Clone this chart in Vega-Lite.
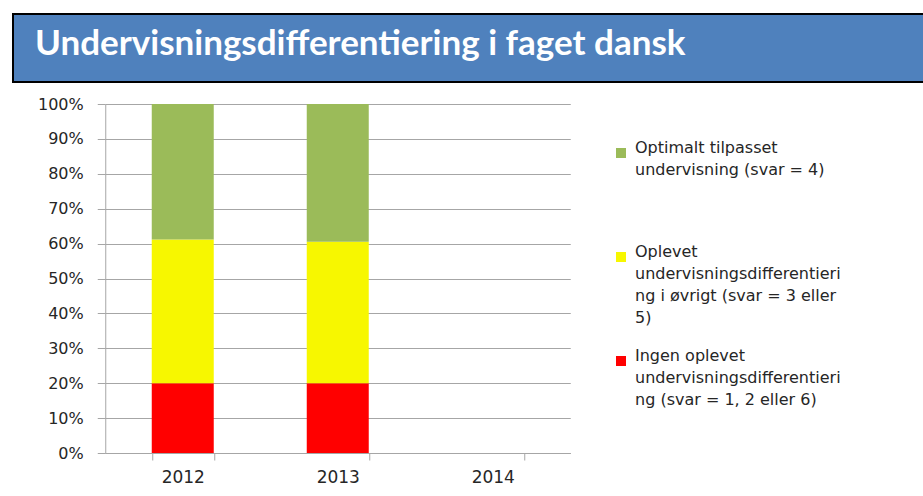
{
  "$schema": "https://vega.github.io/schema/vega-lite/v6.json",
  "padding": {"left": 12, "top": 13, "right": 0, "bottom": 0},
  "background": "white",
  "spacing": 13,
  "center": true,
  "config": {"style": {"guide-label": {"lineHeight": 22}}},
  "vconcat": [
    {
      "width": 915,
      "height": 68,
      "data": {"values": [{"banner": "title"}]},
      "view": {"stroke": null},
      "title": {
        "text": "Undervisningsdifferentiering i faget dansk",
        "anchor": "start",
        "frame": "group",
        "orient": "top",
        "offset": -77,
        "baseline": "alphabetic",
        "dx": 22,
        "font": "Lato",
        "fontWeight": "bold",
        "fontSize": 35,
        "color": "#ffffff"
      },
      "mark": {"type": "rect", "color": "#4F81BD", "stroke": "#000000", "strokeWidth": 2},
      "encoding": {}
    },
    {
      "spacing": 0,
      "hconcat": [
        {
          "width": 465,
          "height": 349,
          "view": {"stroke": null},
          "data": {
            "values": [
              {"year": "2012", "category": "Ingen oplevet undervisningsdifferentiering (svar = 1, 2 eller 6)", "share": 0.20},
              {"year": "2012", "category": "Oplevet undervisningsdifferentiering i øvrigt (svar = 3 eller 5)", "share": 0.412},
              {"year": "2012", "category": "Optimalt tilpasset undervisning (svar = 4)", "share": 0.388},
              {"year": "2013", "category": "Ingen oplevet undervisningsdifferentiering (svar = 1, 2 eller 6)", "share": 0.20},
              {"year": "2013", "category": "Oplevet undervisningsdifferentiering i øvrigt (svar = 3 eller 5)", "share": 0.405},
              {"year": "2013", "category": "Optimalt tilpasset undervisning (svar = 4)", "share": 0.395}
            ]
          },
          "mark": {"type": "bar"},
          "encoding": {
            "x": {
              "field": "year",
              "type": "nominal",
              "scale": {"domain": ["2012", "2013", "2014"], "paddingInner": 0.6, "paddingOuter": 0.3},
              "axis": {
                "title": null,
                "labelAngle": 0,
                "labelFont": "DejaVu Sans",
                "labelFontSize": 17,
                "labelColor": "#262626",
                "labelPadding": 9,
                "domainColor": "#a6a6a6",
                "tickColor": "#a6a6a6",
                "tickSize": 7,
                "tickBand": "extent",
                "grid": false
              }
            },
            "y": {
              "field": "share",
              "type": "quantitative",
              "stack": "zero",
              "scale": {"domain": [0, 1], "nice": false},
              "axis": {
                "title": null,
                "format": ".0%",
                "values": [0, 0.1, 0.2, 0.3, 0.4, 0.5, 0.6, 0.7, 0.8, 0.9, 1],
                "labelFont": "DejaVu Sans",
                "labelFontSize": 16,
                "labelColor": "#262626",
                "labelPadding": 14,
                "tickSize": 8,
                "tickColor": "#a6a6a6",
                "domainColor": "#a6a6a6",
                "gridColor": "#a6a6a6"
              }
            },
            "color": {
              "field": "category",
              "type": "nominal",
              "scale": {
                "domain": [
                  "Optimalt tilpasset undervisning (svar = 4)",
                  "Oplevet undervisningsdifferentiering i øvrigt (svar = 3 eller 5)",
                  "Ingen oplevet undervisningsdifferentiering (svar = 1, 2 eller 6)"
                ],
                "range": ["#9BBB59", "#F7F700", "#FF0000"]
              },
              "legend": {
                "title": null,
                "orient": "none",
                "legendX": 600,
                "legendY": 131,
                "padding": 0,
                "symbolType": "square",
                "symbolSize": 100,
                "symbolStrokeWidth": 0,
                "labelFont": "DejaVu Sans",
                "labelFontSize": 16,
                "labelColor": "#262626",
                "labelLimit": 400,
                "labelOffset": 6,
                "labelBaseline": "alphabetic",
                "rowPadding": 22,
                "labelExpr": "datum.label == 'Ingen oplevet undervisningsdifferentiering (svar = 1, 2 eller 6)' ? ['Ingen oplevet', 'undervisningsdifferentieri', 'ng (svar = 1, 2 eller 6)'] : datum.label == 'Optimalt tilpasset undervisning (svar = 4)' ? ['Optimalt tilpasset', 'undervisning (svar = 4)', '', ''] : ['Oplevet', 'undervisningsdifferentieri', 'ng i øvrigt (svar = 3 eller', '5)']"
              }
            },
            "order": {"field": "category", "type": "nominal", "sort": "ascending"}
          }
        },
        {
          "width": 265,
          "height": 349,
          "view": {"stroke": "transparent"},
          "data": {"values": []},
          "mark": {"type": "point"},
          "encoding": {}
        }
      ]
    }
  ]
}
